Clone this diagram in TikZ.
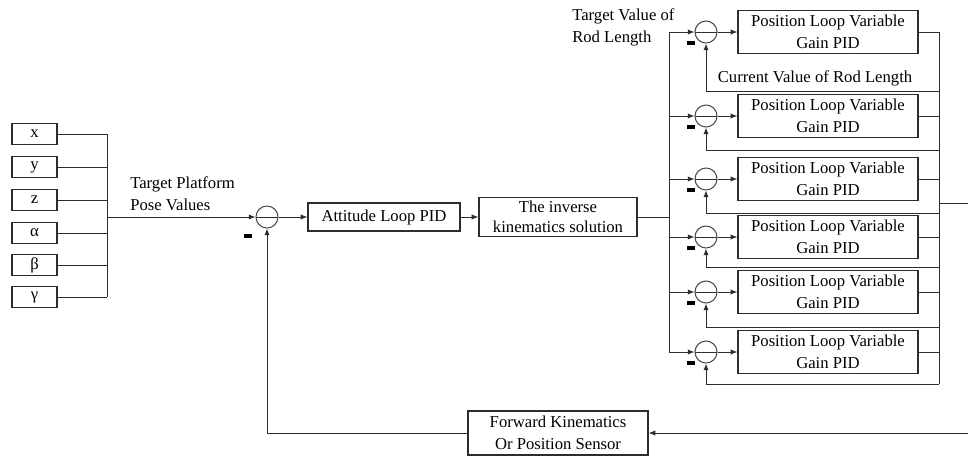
\documentclass[tikz,border=0pt]{standalone}
\usepackage{fontspec}
\setmainfont{Liberation Serif}
\usetikzlibrary{arrows.meta,positioning,calc}
\definecolor{wire}{RGB}{45,45,45}
\tikzset{
  block/.style={draw=wire,line width=0.9pt,minimum width=135pt,minimum height=32.25pt,align=center,inner sep=1pt},
  inbox/.style={block,minimum width=33.75pt,minimum height=15.75pt},
  attbox/.style={block,minimum width=114pt,minimum height=21pt},
  invbox/.style={block,minimum width=118.5pt,minimum height=29.25pt,font=\fontsize{12.5}{15}\selectfont},
  sumpt/.style={circle,draw=wire!85,line width=0.8pt,minimum size=16.5pt,inner sep=0pt,
    path picture={\draw[wire,line width=0.7pt] (path picture bounding box.west)--(path picture bounding box.east);}},
  minus/.style={inner sep=0pt},
  lbl/.style={align=left,inner sep=0pt},
  arr/.style={-{Latex[length=5pt,width=4pt]},draw=wire,line width=0.75pt},
  wireln/.style={draw=wire,line width=0.75pt}
}

\begin{document}
\begin{tikzpicture}[x=0.75pt,y=-0.75pt,font=\fontsize{12.5}{16.5}\selectfont]
  \useasboundingbox (0,0) rectangle (968,457);
  % pose inputs
  \foreach \n/\t/\yy in {x/x/134,y/y/167,z/z/200,al/α/233,be/β/265,ga/γ/297}{
    \node[inbox] (in-\n) at (34.5,\yy) {\t};
    \coordinate (jn-\n) at (107,\yy);
    \draw[wireln] (in-\n.east) -- (jn-\n);
  }
  \draw[wireln] (jn-x) -- (jn-ga);
  \coordinate (jn-out) at (107,217);
  \node[lbl,anchor=west] (posetxt) at (130,193.5) {Target Platform\\Pose Values};
  \node[sumpt] (sum0) at (267,217) {};
  \node[minus] (m0) at (248,236) {\rule{5.5pt}{2.6pt}};
  \node[attbox] (att) at (384,217) {Attitude Loop PID};
  \node[invbox] (inv) at (558,217) {The inverse\\kinematics solution};
  \draw[arr] (jn-out) -- (sum0.west);
  \draw[arr] (sum0.east) -- (att.west);
  \draw[arr] (att.east) -- (inv.west);
  % position loops
  \coordinate (lbus) at (669,217);
  \draw[wireln] (inv.east) -- (lbus);
  \foreach \i/\yy/\fy in {1/32/91,2/116/150,3/179/213,4/237/267,5/292/327,6/352/384}{
    \coordinate (lb\i) at (669,\yy);
    \node[sumpt] (s\i) at (706,\yy) {};
    \node[minus] (m\i) at (691,\yy+11) {\rule{5.5pt}{2.6pt}};
    \node[block] (p\i) at (828,\yy) {Position Loop Variable\\Gain PID};
    \coordinate (rb\i) at (939,\yy);
    \coordinate (fb\i) at (939,\fy);
    \draw[arr] (lb\i) -- (s\i.west);
    \draw[arr] (s\i.east) -- (p\i.west);
    \draw[wireln] (p\i.east) -- (rb\i);
    \draw[arr] (fb\i) -| (s\i.south);
  }
  \draw[wireln] (lb1) -- (lb6);
  \draw[wireln] (rb1) -- (fb6);
  \node[lbl,anchor=west] (rodtxt) at (572,27) {Target Value of\\Rod Length};
  \node[lbl] (curtxt) at (815,78) {Current Value of Rod Length};
  \coordinate (rbo) at (939,203);
  \coordinate (outR) at (968,203);
  \draw[wireln] (rbo) -- (outR);
  % feedback
  \node[block,minimum height=33pt] (fk) at (558,433) {Forward Kinematics\\Or Position Sensor};
  \coordinate (fbin) at (968,433);
  \draw[arr] (fbin) -- (fk.east);
  \draw[arr] (fk.west) -| (sum0.south);
\end{tikzpicture}
\end{document}
